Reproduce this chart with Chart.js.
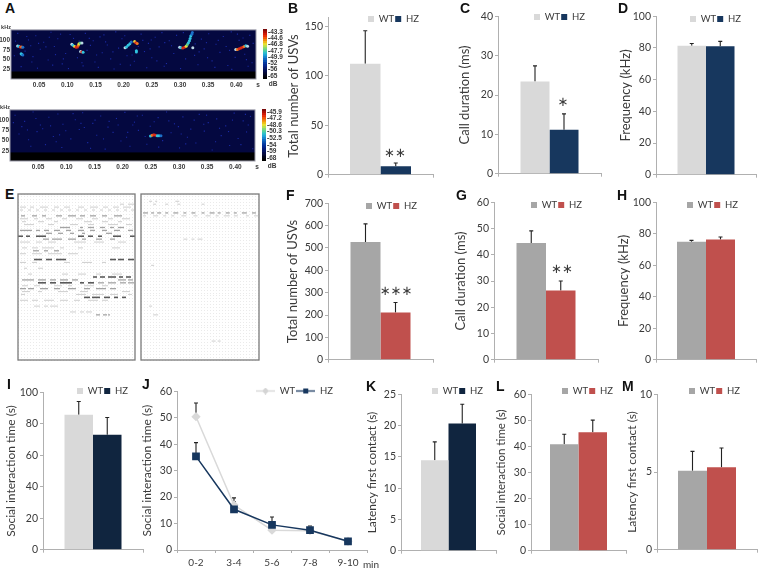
<!DOCTYPE html>
<html>
<head>
<meta charset="utf-8">
<script src="https://cdn.jsdelivr.net/npm/chart.js@4"></script>
<style>
  html, body { margin: 0; background: #fff; }
  #page { position: relative; width: 758px; height: 568px; overflow: hidden; }
  canvas { position: absolute; filter: blur(0.3px); }
  .tag { position: absolute; font: bold 14px/14px "Liberation Sans", sans-serif; color: #111; }
</style>
</head>
<body>
<div id="page"></div>
<script>
// bar panels: mean values and top of the error whisker, WT then HZ
const bValues = [112, 8.5],   bTops = [145.4, 11.8];
const cValues = [23.4, 11.2], cTops = [27.4, 15.2];
const dValues = [81.4, 81.1], dTops = [82.8, 84.2];
const fValues = [527, 211],   fTops = [608, 256];
const gValues = [44.5, 26.4], gTops = [49.1, 30];
const hValues = [74.9, 76.4], hTops = [75.8, 78];
const iValues = [85.7, 73],   iTops = [94.2, 84];
const kValues = [14.45, 20.35], kTops = [17.4, 23.4];
const lValues = [40.8, 45.4], lTops = [44.7, 50.1];
const mValues = [5.08, 5.31], mTops = [6.33, 6.54];

// panel J
const jLabels = ['0-2', '3-4', '5-6', '7-8', '9-10'];
const jWt = [50.4, 17, 7.5, 7.3, 3.3];
const jHz = [35.4, 15.4, 9.5, 7.5, 3.3];
const jWtTops = [55.6, 19.7, 8.6, 8.4, 3.8];
const jHzTops = [40.6, 18.2, 12.5, 9.1, 3.7];

// spectrogram calls: [time s, frequency kHz, colour level]
const callsTop = [
  [.0118,85.5,6],[.014,85,4],[.0165,83,0],[.019,83,1],[.021,82,5],
  [.018,65,4],[.0195,63.5,4],[.021,62,5],
  [.108,90,6],[.110,87,4],[.113,84,2],[.1155,82,0],[.118,83,0],[.1195,87,1],[.1207,91,2],[.123,93,3],[.126,93,6],
  [.1235,71,6],[.1255,70,0],[.128,69,4],
  [.2025,81,6],[.205,83,4],[.208,87,4],[.211,91,4],[.2135,96,5],
  [.2195,97,2],[.2215,94,0],[.224,92,1],[.2226,73,4],[.2226,70,4],
  [.2995,82,6],[.302,81,4],[.305,80,0],[.308,82,0],[.311,85,2],[.313,89,3],[.315,94,4],[.3168,99,4],[.318,105,4],[.3192,111,4],[.321,116,5],[.322,120,5],[.3228,81,6],
  [.399,76,6],[.402,76.5,1],[.405,78,0],[.408,80,0],[.411,82,0],[.414,84,1],[.417,86,4],[.420,85,6]
];
const callsBottom = [
  [.2495,61,4],[.2525,63,1],[.2555,64,0],[.2585,63,0],[.2615,62,4],[.2645,62,4],[.268,62,5]
];

// brighter flecks of background noise: [time s, frequency kHz]
const flecksTop = [
  [.012,118],[.031,101],[.044,112],[.058,95],[.071,121],[.083,104],[.097,66],[.105,115],[.132,118],[.146,99],[.158,109],[.171,88],[.186,122],[.197,104],
  [.231,116],[.244,92],[.256,108],[.268,120],[.281,99],[.294,113],[.338,103],[.351,117],[.364,90],[.377,110],[.391,122],[.405,100],[.424,113],
  [.025,72],[.039,58],[.052,77],[.066,49],[.079,63],[.091,39],[.118,55],[.135,74],[.149,44],[.162,68],[.177,52],[.191,80],[.206,60],[.219,46],
  [.237,71],[.25,55],[.263,83],[.276,40],[.289,66],[.31,52],[.326,61],[.343,78],[.357,47],[.371,69],[.385,35],[.398,56],[.415,64],[.428,42],
  [.018,32],[.047,28],[.074,36],[.102,27],[.128,34],[.155,30],[.183,26],[.212,36],[.241,29],[.272,33],[.301,27],[.332,37],[.362,30],[.392,25],[.421,33],
  [.008,98],[.035,86],[.062,83],[.088,116],[.111,105],[.141,87],[.168,96],[.202,112],[.226,84],[.249,101],[.285,86],[.327,91],[.347,94],[.382,84],[.412,106],
  [.006,60],[.028,110],[.037,44],[.049,92],[.068,108],[.077,84],[.093,52],[.121,98],[.126,42],[.139,105],[.152,62],[.165,114],[.181,70],[.194,38],
  [.215,62],[.234,100],[.247,78],[.259,47],[.273,94],[.297,82],[.306,120],[.334,70],[.349,55],[.368,100],[.388,74],[.402,116],[.418,50],[.43,92]
];
const flecksBottom = [
  [.009,112],[.026,97],[.041,120],[.054,88],[.069,107],[.085,115],[.099,74],[.116,101],[.129,118],[.147,92],[.161,110],[.174,83],[.189,104],[.204,119],
  [.221,95],[.235,112],[.249,85],[.263,106],[.278,120],[.292,91],[.307,108],[.321,78],[.336,114],[.352,94],[.367,103],[.383,86],[.398,117],[.414,98],[.427,109],
  [.016,66],[.033,52],[.048,72],[.063,40],[.077,60],[.092,33],[.108,54],[.123,77],[.138,45],[.154,63],[.169,29],[.183,70],[.197,49],[.213,36],
  [.228,75],[.243,41],[.271,50],[.286,69],[.301,32],[.315,58],[.33,44],[.345,73],[.359,27],[.375,62],[.39,38],[.405,55],[.42,71],[.431,30],
  [.021,84],[.058,79],[.094,90],[.132,82],[.176,97],[.218,88],[.256,96],[.299,84],[.344,90],[.388,72],[.423,88],
  [.037,36],[.082,47],[.143,31],[.207,58],[.264,34],[.312,42],[.365,47],[.41,40],
  [.006,94],[.031,76],[.046,104],[.072,86],[.088,64],[.112,116],[.126,92],[.151,100],[.166,54],[.192,88],[.209,70],[.226,110],[.24,60],[.282,98],[.304,66],[.327,100],[.349,112],[.372,80],[.395,100],[.418,114]
];

// colour bar, top to bottom, with its labels
const barStops = ['#7a0a0a','#a81008','#d01a08','#e83008','#f05808','#f08810','#f0b818','#e8e030','#b8e050','#80d878','#50d0a0','#30c0c8','#20a8d8','#1888d0','#1068c0','#0850b0','#0438a0','#042890','#041c78','#041460','#040c48','#040830','#020418','#000000'];
const barLevelsTop = ['', '-43.3', '', '', '-44.6', '', '', '-46.8', '', '', '-47.7', '', '', '-49.9', '', '', '-52', '', '', '-56', '', '', '-65', ''];
const barLevelsBottom = ['', '-45.9', '', '', '-47.2', '', '', '-48.6', '', '', '-50.3', '', '', '-52.5', '', '', '-54', '', '', '-59', '', '', '-68', ''];

// sonogram marks: [row, shade, [start, length, start, length, ...]]
const sonoLeft = [
  [3,0,[102,4,110,6]],
  [4,0,[2,6,12,4,22,8,36,5,46,6,60,6,72,8,85,5,95,6,105,8]],
  [5,0,[2,3,10,3,18,3,26,3,34,3,42,3,50,3,58,3,66,3,74,3,82,3,90,3,98,3,106,3,113,3]],
  [7,1,[3,4,14,5,24,4,38,6,50,8,62,5,72,6,84,5,96,8]],
  [8,0,[2,8,16,4,28,6,44,5,58,7,74,6,90,5,104,8]],
  [9,0,[4,4,20,6,36,4,66,8,84,6,100,4]],
  [10,0,[6,10,30,6,52,8,70,6,90,10,108,6]],
  [11,1,[42,10,62,3,70,6,82,5,92,4,100,6]],
  [12,1,[2,12,18,4,26,5,36,6,48,5,60,6,72,5,84,5,96,6,110,5]],
  [13,1,[28,6,40,5,52,4,64,3,88,6]],
  [14,2,[0,5,8,4,18,10,60,6,70,5,80,4,95,8,112,5]],
  [15,1,[25,6,34,10,50,8,64,4,78,6,92,5]],
  [16,0,[2,10,18,6,30,8,56,12,76,10,100,8]],
  [18,0,[4,5,14,6,24,12,42,4,60,5,94,8]],
  [19,1,[15,6,26,4,36,5]],
  [20,0,[2,6,14,10,30,14,50,10]],
  [22,2,[16,8,28,6,38,10,92,6,100,6,110,6]],
  [23,0,[2,6,14,5,46,6,64,10,84,4]],
  [25,0,[6,3,20,5]],
  [27,0,[10,4,44,6,60,8,78,5,94,10]],
  [28,2,[75,4,82,5,90,8,101,4,108,5]],
  [29,1,[4,12,20,8,32,6,42,8,54,6,100,8,110,5]],
  [30,2,[20,8,32,6,42,12,62,4,70,6]],
  [30,1,[80,6,90,8,102,6,110,6]],
  [31,0,[4,6,16,6,36,8,50,4,66,10,84,6]],
  [32,1,[2,6,10,6,22,8,36,6,50,8,66,6,78,10,92,6]],
  [33,0,[4,8,20,4,40,10,62,8,104,8]],
  [34,0,[3,4,58,10,74,12,92,8,110,4]],
  [35,2,[66,6,74,8,86,6,96,4,104,4]],
  [36,0,[2,8,14,6,26,10,42,8,56,6,70,10,84,6]],
  [38,0,[16,6,26,4,32,8]],
  [40,0,[52,6,62,4,68,6]],
  [41,1,[78,4,85,4,90,2]]
];
const sonoRight = [
  [2,0,[8,3,14,2,34,4]],
  [3,0,[12,3,24,3,36,3,60,3]],
  [6,1,[2,5,10,3,16,4,24,3,32,5,42,3,50,4,60,3,68,5,76,3,84,4,92,3,100,5,110,4]],
  [7,0,[2,3,12,5,22,3,30,3,40,5,52,4,64,5,74,3,82,6,92,4,104,3,112,4]],
  [15,0,[42,4,50,3,56,5]],
  [24,0,[10,3]],
  [38,0,[8,3]],
  [41,0,[12,5]],
  [50,0,[70,4,76,3]]
];

const textColor = '#3a3a3a';
const axisColor = '#b0b0b0';
const uiFont = 'Lato, "Liberation Sans", sans-serif';
const narrowFont = '"Liberation Sans Narrow", "Liberation Sans", sans-serif';
const lightPair = ['#d9d9d9', '#17375e'];
const darkPair = ['#d9d9d9', '#10253f'];
const redPair = ['#a6a6a6', '#c0504d'];
const page = document.getElementById('page');

const pinLegend = {
  id: 'pinLegend',
  beforeLayout(chart) {
    const lg = chart.legend;
    if (lg && !lg._wrapped) {
      const fit = lg.fit;
      lg.fit = function () { fit.call(this); this.height = 0; };
      lg._wrapped = true;
    }
  },
  beforeDraw(chart) {
    const pos = chart.$legendPos;
    if (!pos || !chart.legend) return;
    const lg = chart.legend;
    lg.left = pos.x - chart.$offset.x - 1;
    lg.right = lg.left + 200;
    lg.top = pos.y - chart.$offset.y - 5.75;
    lg.bottom = lg.top + 20;
  }
};

const whiskers = {
  id: 'whiskers',
  beforeDatasetsDraw(chart) {
    const tops = chart.$tops;
    if (!tops) return;
    const y = chart.scales.y, ctx = chart.ctx;
    ctx.save();
    ctx.strokeStyle = '#222';
    ctx.lineWidth = 1.1;
    tops.forEach((set, d) => {
      chart.getDatasetMeta(d).data.forEach((el, i) => {
        const top = y.getPixelForValue(set[i]);
        ctx.beginPath();
        ctx.moveTo(el.x, el.y);
        ctx.lineTo(el.x, top);
        ctx.moveTo(el.x - 2, top);
        ctx.lineTo(el.x + 2, top);
        ctx.stroke();
      });
    });
    ctx.restore();
  }
};

// black band and plot background for the spectrograms, frame for the sonograms
const plotBack = {
  id: 'plotBack',
  beforeDatasetsDraw(chart) {
    const b = chart.$back;
    if (!b) return;
    const a = chart.chartArea, ctx = chart.ctx;
    if (b.band) {
      const y = chart.scales.y.getPixelForValue(b.band);
      ctx.fillStyle = '#000';
      ctx.fillRect(a.left, y, a.width, a.bottom - y);
    }
  },
  beforeDraw(chart) {
    const b = chart.$back;
    if (!b || !b.fill) return;
    const a = chart.chartArea;
    chart.ctx.fillStyle = b.fill;
    chart.ctx.fillRect(a.left, a.top, a.width, a.height);
  },
  afterDraw(chart) {
    const b = chart.$back;
    if (!b || !b.frame) return;
    const a = chart.chartArea, ctx = chart.ctx;
    ctx.strokeStyle = b.frame;
    ctx.lineWidth = b.frameWidth || 1;
    ctx.strokeRect(a.left, a.top, a.width, a.height);
  }
};

const notesPlugin = {
  id: 'notesPlugin',
  afterDraw(chart) {
    (chart.$notes || []).forEach((n) => {
      const ctx = chart.ctx;
      ctx.fillStyle = n.color || textColor;
      ctx.font = n.font;
      ctx.textAlign = 'center';
      ctx.textBaseline = 'middle';
      ctx.fillText(n.text, n.x - chart.$offset.x, n.y - chart.$offset.y);
    });
  }
};

function place(box, margin, config, extras) {
  const canvas = document.createElement('canvas');
  const w = box.r - box.l + margin.l + margin.r;
  const h = box.b - box.t + margin.t + margin.b;
  canvas.width = w;
  canvas.height = h;
  canvas.style.left = (box.l - margin.l) + 'px';
  canvas.style.top = (box.t - margin.t) + 'px';
  page.appendChild(canvas);
  config.options.responsive = false;
  config.options.animation = false;
  config.options.events = [];
  config.options.layout = {
    autoPadding: false,
    padding: { top: margin.t, right: margin.padR === undefined ? margin.r : margin.padR, left: 0, bottom: margin.padB || 0 }
  };
  config.plugins = [plotBack, pinLegend, whiskers, notesPlugin];
  const chart = new Chart(canvas, config);
  Object.assign(chart, { $offset: { x: box.l - margin.l, y: box.t - margin.t } }, extras);
  chart.draw();
  return chart;
}

function fixedTicks(list) {
  return (axis) => { axis.ticks = list.map((v) => ({ value: v })); };
}

function valueAxis(max, ticks, title, margin, titleSize) {
  return {
    min: 0, max,
    afterBuildTicks: fixedTicks(ticks),
    afterFit: (s) => { s.width = margin.l; },
    border: { color: axisColor },
    grid: { drawOnChartArea: false, tickLength: 3, color: axisColor },
    ticks: { autoSkip: false, padding: 2, color: textColor, font: { family: uiFont, size: 10.5 } },
    title: { display: true, text: title, color: textColor, padding: { top: 2, bottom: 0 }, font: { family: uiFont, size: titleSize } }
  };
}

function categoryAxis(labels, margin, showLabels) {
  return {
    offset: true,
    afterFit: (s) => { s.height = margin.b; },
    border: { color: axisColor },
    grid: { offset: true, drawOnChartArea: false, tickLength: 3, color: axisColor },
    ticks: { display: showLabels, maxRotation: 0, autoSkip: false, padding: 4, color: textColor, font: { family: uiFont, size: 10 } },
    labels
  };
}

function legendOptions() {
  return {
    display: true, position: 'top', align: 'start', fullSize: false,
    labels: { boxWidth: 6, boxHeight: 6, padding: 1, color: textColor, font: { family: uiFont, size: 9.5 } }
  };
}

function barPanel(p) {
  const margin = { l: p.gap + 9, r: 2, t: 4, b: 8 };
  const share = (p.bars[1] - p.bars[0]) / (p.box.r - p.box.l);
  place(p.box, margin, {
    type: 'bar',
    data: {
      labels: [''],
      datasets: [
        { label: 'WT', data: [p.values[0]], backgroundColor: p.colors[0], barPercentage: 1, categoryPercentage: share },
        { label: 'HZ', data: [p.values[1]], backgroundColor: p.colors[1], barPercentage: 1, categoryPercentage: share }
      ]
    },
    options: {
      scales: { x: categoryAxis([''], margin, false), y: valueAxis(p.max, p.ticks, p.title, margin, p.titleSize) },
      plugins: { legend: legendOptions(), tooltip: { enabled: false } }
    }
  }, { $tops: [[p.tops[0]], [p.tops[1]]], $legendPos: p.legend, $notes: p.stars || [] });
}

const starFont = '13px "DejaVu Sans", sans-serif';

barPanel({ box: { l: 328, r: 433, t: 13, b: 175 }, bars: [349, 410], values: bValues, tops: bTops, colors: lightPair, max: 159, ticks: [0, 50, 100, 150], title: 'Total number of USVs', titleSize: 13, gap: 35, legend: { x: 368, y: 19 }, stars: [{ text: '∗∗', x: 395, y: 154, font: starFont }] });
barPanel({ box: { l: 498, r: 601, t: 12, b: 174 }, bars: [520, 578], values: cValues, tops: cTops, colors: lightPair, max: 40, ticks: [0, 10, 20, 30, 40], title: 'Call duration (ms)', titleSize: 13, gap: 34, legend: { x: 534, y: 17 }, stars: [{ text: '∗', x: 563, y: 103, font: starFont }] });
barPanel({ box: { l: 656, r: 756, t: 12, b: 175 }, bars: [678, 735], values: dValues, tops: dTops, colors: lightPair, max: 100, ticks: [0, 20, 40, 60, 80, 100], title: 'Frequency (kHz)', titleSize: 13, gap: 31, legend: { x: 690, y: 19 } });
barPanel({ box: { l: 328, r: 433, t: 199, b: 360 }, bars: [350, 410], values: fValues, tops: fTops, colors: redPair, max: 700, ticks: [0, 100, 200, 300, 400, 500, 600, 700], title: 'Total number of USVs', titleSize: 13, gap: 36, legend: { x: 366, y: 206 }, stars: [{ text: '∗∗∗', x: 396, y: 292, font: starFont }] });
barPanel({ box: { l: 494, r: 598, t: 198, b: 360 }, bars: [517, 576], values: gValues, tops: gTops, colors: redPair, max: 60, ticks: [0, 10, 20, 30, 40, 50, 60], title: 'Call duration (ms)', titleSize: 13, gap: 34, legend: { x: 531, y: 205 }, stars: [{ text: '∗∗', x: 562, y: 270, font: starFont }] });
barPanel({ box: { l: 656, r: 756, t: 198, b: 360 }, bars: [678, 736], values: hValues, tops: hTops, colors: redPair, max: 100, ticks: [0, 20, 40, 60, 80, 100], title: 'Frequency (kHz)', titleSize: 13, gap: 33, legend: { x: 687, y: 205 } });
barPanel({ box: { l: 43, r: 143, t: 388, b: 550 }, bars: [64, 121], values: iValues, tops: iTops, colors: darkPair, max: 100, ticks: [0, 20, 40, 60, 80, 100], title: 'Social interaction time (s)', titleSize: 12, gap: 32, legend: { x: 77, y: 391 } });
barPanel({ box: { l: 401, r: 496, t: 390, b: 551 }, bars: [421, 476], values: kValues, tops: kTops, colors: darkPair, max: 25, ticks: [0, 5, 10, 15, 20, 25], title: 'Latency first contact (s)', titleSize: 12, gap: 29, legend: { x: 432, y: 391 } });
barPanel({ box: { l: 531, r: 626, t: 390, b: 551 }, bars: [552, 609], values: lValues, tops: lTops, colors: redPair, max: 60, ticks: [0, 10, 20, 30, 40, 50, 60], title: 'Social interaction time (s)', titleSize: 11.5, gap: 30, legend: { x: 562, y: 391 } });
barPanel({ box: { l: 657, r: 757, t: 390, b: 550 }, bars: [678, 736], values: mValues, tops: mTops, colors: redPair, max: 10, ticks: [0, 5, 10], title: 'Latency first contact (s)', titleSize: 12, gap: 25, legend: { x: 689, y: 391 } });

// panel J, line chart with marker-on-line legend keys
function legendKey(color, style) {
  const key = document.createElement('canvas');
  key.width = 19;
  key.height = 7;
  const ctx = key.getContext('2d');
  ctx.strokeStyle = color;
  ctx.lineWidth = 1.3;
  ctx.beginPath();
  ctx.moveTo(0, 3.5);
  ctx.lineTo(19, 3.5);
  ctx.stroke();
  ctx.fillStyle = color;
  ctx.beginPath();
  if (style === 'diamond') {
    ctx.moveTo(9.5, 0); ctx.lineTo(13, 3.5); ctx.lineTo(9.5, 7); ctx.lineTo(6, 3.5);
  } else {
    ctx.rect(7, 1, 5, 5);
  }
  ctx.fill();
  return key;
}

(function linePanel() {
  const margin = { l: 39, r: 16, t: 4, b: 18 };
  const legend = legendOptions();
  legend.labels.usePointStyle = true;
  legend.labels.pointStyleWidth = 19;
  legend.labels.generateLabels = () => [
    { text: 'WT', fontColor: textColor, lineWidth: 0, hidden: false, datasetIndex: 0, pointStyle: legendKey('#d4d4d4', 'diamond') },
    { text: 'HZ', fontColor: textColor, lineWidth: 0, hidden: false, datasetIndex: 1, pointStyle: legendKey('#17375e', 'rect') }
  ];
  place({ l: 177, r: 367, t: 387, b: 550 }, margin, {
    type: 'line',
    data: {
      labels: jLabels,
      datasets: [
        { label: 'WT', data: jWt, order: 2, borderColor: '#d9d9d9', backgroundColor: '#d9d9d9', borderWidth: 1.5, tension: 0, pointStyle: 'rectRot', pointRadius: 3.6 },
        { label: 'HZ', data: jHz, order: 1, borderColor: '#17375e', backgroundColor: '#17375e', borderWidth: 1.5, tension: 0, pointStyle: 'rect', pointRadius: 4.4 }
      ]
    },
    options: {
      scales: { x: categoryAxis(jLabels, margin, true), y: valueAxis(60, [0, 10, 20, 30, 40, 50, 60], 'Social interaction time (s)', margin, 12) },
      plugins: { legend, tooltip: { enabled: false } }
    }
  }, { $tops: [jWtTops, jHzTops], $legendPos: { x: 256, y: 391 }, $notes: [{ text: 'min', x: 371, y: 565, font: '10px ' + uiFont }] });
})();

// spectrogram panels
const levelColors = ['#d82818', '#f07820', '#e8e040', '#60d088', '#30c4e0', '#1c70c8', '#bcd8e4'];

function spectrogram(box, top, band, calls, flecks, secondTicks) {
  const margin = { l: 11, r: 4, t: 2, b: 10 };
  const tickFont = { family: narrowFont, size: 6.5, weight: 'bold' };
  place(box, margin, {
    type: 'scatter',
    data: {
      datasets: [
        { data: calls.map((p) => ({ x: p[0], y: p[1], level: p[2] })), pointStyle: 'circle', pointRadius: 1.5, borderWidth: 0,
          backgroundColor: (c) => levelColors[c.raw.level] },
        { data: flecks.map((p) => ({ x: p[0], y: p[1] })), pointStyle: 'rect', pointRadius: 0.8, borderWidth: 0, backgroundColor: '#1a2aa4' }
      ]
    },
    options: {
      scales: {
        x: {
          type: 'linear', min: 0, max: 0.435,
          afterBuildTicks: fixedTicks(secondTicks),
          afterFit: (s) => { s.height = margin.b; },
          border: { display: false },
          grid: { display: false, drawTicks: false },
          ticks: { autoSkip: false, maxRotation: 0, padding: 2, color: textColor, font: tickFont, callback: (v) => v.toFixed(2) }
        },
        y: {
          min: 0, max: top,
          afterBuildTicks: fixedTicks([25, 50, 75, 100]),
          afterFit: (s) => { s.width = margin.l; },
          border: { display: false },
          grid: { display: false, drawTicks: false },
          ticks: { autoSkip: false, padding: 1, color: textColor, font: tickFont }
        }
      },
      plugins: { legend: { display: false }, tooltip: { enabled: false } }
    }
  }, {
    $back: { fill: '#040840', band, frame: '#9a9aa8' },
    $notes: [
      { text: 'kHz', x: box.l - 5, y: box.t, font: 'bold 5.5px ' + narrowFont },
      { text: 's', x: box.r + 2, y: box.b + 6, font: 'bold 6.5px ' + narrowFont }
    ]
  });
}

const secondTicks = [0.05, 0.10, 0.15, 0.20, 0.25, 0.30, 0.35, 0.40];
spectrogram({ l: 11, r: 256, t: 27, b: 79 }, 127, 19.4, callsTop, flecksTop, secondTicks);
spectrogram({ l: 10, r: 255, t: 107, b: 161 }, 125, 21, callsBottom, flecksBottom, secondTicks);

function colorBar(box, levels, dbY) {
  const margin = { l: 0, r: 18, t: 1, b: 10, padR: 0, padB: 10 };
  place(box, margin, {
    type: 'bar',
    data: { labels: levels, datasets: [{ data: levels.map(() => 1), backgroundColor: barStops, barPercentage: 1, categoryPercentage: 1 }] },
    options: {
      indexAxis: 'y',
      scales: {
        x: { display: false, min: 0, max: 1 },
        y: {
          position: 'right',
          afterFit: (s) => { s.width = margin.r; },
          border: { display: false },
          grid: { display: false, drawTicks: false },
          ticks: { autoSkip: false, padding: 1, color: textColor, font: { family: narrowFont, size: 6.5, weight: 'bold' } }
        }
      },
      plugins: { legend: { display: false }, tooltip: { enabled: false } }
    }
  }, { $notes: [{ text: 'dB', x: box.r + 6, y: dbY, font: 'bold 6.5px ' + narrowFont }] });
}
colorBar({ l: 263, r: 267, t: 25, b: 79 }, barLevelsTop, 84);
colorBar({ l: 262, r: 266, t: 105, b: 161 }, barLevelsBottom, 166);

// sonogram panels, the dotted rows are the grid of the row axis
const sonoShades = [['#d2d2d2', 1.1], ['#a4a4a4', 1.3], ['#5a5a5a', 1.6]];

function sonogram(box, rows) {
  const margin = { l: 1, r: 1, t: 1, b: 1, padB: 1 };
  const points = [];
  rows.forEach(([row, shade, spans]) => {
    for (let i = 0; i < spans.length; i += 2) {
      points.push({ x: spans[i] + spans[i + 1] / 2, y: row + 0.5, half: spans[i + 1] / 2, shade });
    }
  });
  place(box, margin, {
    type: 'scatter',
    data: {
      datasets: [{
        data: points,
        pointStyle: 'line',
        pointRadius: (c) => c.raw.half,
        borderColor: (c) => sonoShades[c.raw.shade][0],
        pointBorderWidth: (c) => sonoShades[c.raw.shade][1]
      }]
    },
    options: {
      scales: {
        x: { type: 'linear', display: false, min: 0, max: 117 },
        y: {
          min: 0, max: 57, reverse: true,
          afterFit: (s) => { s.width = margin.l; },
          border: { display: false, dash: [1, 2] },
          grid: { color: '#eaeaea', drawTicks: false },
          ticks: { display: false, stepSize: 1, autoSkip: false }
        }
      },
      plugins: { legend: { display: false }, tooltip: { enabled: false } }
    }
  }, { $back: { frame: '#7a7a7a', frameWidth: 1.3 } });
}
sonogram({ l: 18, r: 135, t: 194, b: 360 }, sonoLeft);
sonogram({ l: 141, r: 259, t: 194, b: 360 }, sonoRight);

// panel letters
const panelTags = [['A', 5, 1], ['B', 288, 1], ['C', 460, 1], ['D', 618, 1], ['E', 5, 187], ['F', 286, 188], ['G', 456, 188], ['H', 617, 188], ['I', 7, 377], ['J', 142, 377], ['K', 366, 379], ['L', 496, 379], ['M', 622, 379]];
panelTags.forEach(([text, x, y]) => {
  const tag = document.createElement('div');
  tag.className = 'tag';
  tag.textContent = text;
  tag.style.left = x + 'px';
  tag.style.top = y + 'px';
  page.appendChild(tag);
});
</script>
</body>
</html>
